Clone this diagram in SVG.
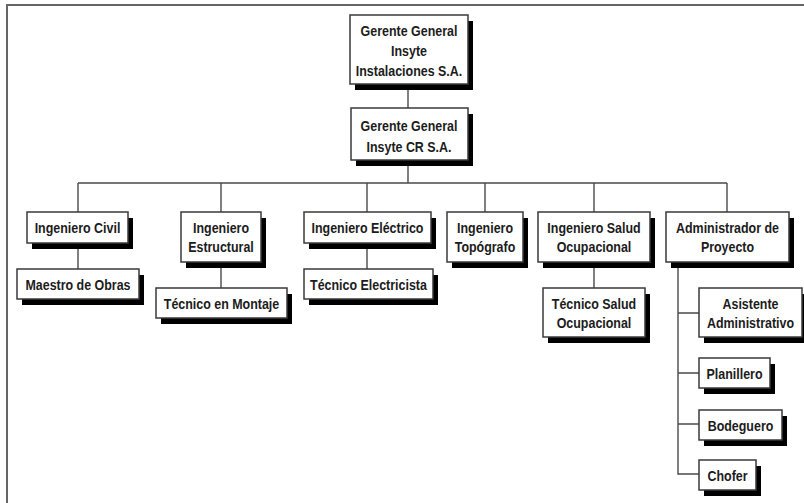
<svg xmlns="http://www.w3.org/2000/svg" width="804" height="503" viewBox="0 0 804 503">
<style>
.sh{fill:#000}
.bx{fill:#fff;stroke:#3a3a3a;stroke-width:1.5}
.t{font-family:"Liberation Sans",Arial,sans-serif;font-weight:bold;font-size:15px;fill:#1c1c1c;text-anchor:middle}
.c{stroke:#4a4a4a;stroke-width:1.4;fill:none}
.frame{stroke:#666;stroke-width:2;fill:none}
</style>
<rect width="804" height="503" fill="#fff"/>
<path class="frame" d="M7,503 V5 H804"/>
<g id="connectors">
<path class="c" d="M408,84 V108 M408,160 V183 M78,183 H727 M78,183 V212 M221,183 V212 M367,183 V212 M485,183 V212 M594,183 V212 M727,183 V212"/>
<path class="c" d="M78,243 V269 M221,262 V288 M367,243 V269 M594,262 V288"/>
<path class="c" d="M678,262 V474 H699 M678,313 H699 M678,373 H699 M678,424 H699"/>
</g>
<g id="n1"><rect class="sh" x="355" y="21" width="118" height="69"/><rect class="bx" x="350" y="15" width="118" height="69"/>
<text class="t" transform="translate(409,36) scale(0.83,1)">Gerente General</text><text class="t" transform="translate(409,56) scale(0.83,1)">Insyte</text><text class="t" transform="translate(409,76) scale(0.83,1)">Instalaciones S.A.</text></g>
<g id="n2"><rect class="sh" x="356" y="114" width="117" height="52"/><rect class="bx" x="351" y="108" width="117" height="52"/>
<text class="t" transform="translate(409,131) scale(0.83,1)">Gerente General</text><text class="t" transform="translate(409,152) scale(0.83,1)">Insyte CR S.A.</text></g>
<g id="civil"><rect class="sh" x="32" y="218" width="101" height="31"/><rect class="bx" x="27" y="212" width="101" height="31"/>
<text class="t" transform="translate(77.5,233) scale(0.83,1)">Ingeniero Civil</text></g>
<g id="maestro"><rect class="sh" x="22" y="275" width="122" height="30"/><rect class="bx" x="17" y="269" width="122" height="30"/>
<text class="t" transform="translate(78,289.5) scale(0.83,1)">Maestro de Obras</text></g>
<g id="estructural"><rect class="sh" x="186" y="218" width="80" height="50"/><rect class="bx" x="181" y="212" width="80" height="50"/>
<text class="t" transform="translate(221,232.5) scale(0.83,1)">Ingeniero</text><text class="t" transform="translate(221,251.5) scale(0.83,1)">Estructural</text></g>
<g id="montaje"><rect class="sh" x="161" y="294" width="131" height="30"/><rect class="bx" x="156" y="288" width="131" height="30"/>
<text class="t" transform="translate(221.5,308.5) scale(0.83,1)">Técnico en Montaje</text></g>
<g id="electrico"><rect class="sh" x="309" y="218" width="127" height="31"/><rect class="bx" x="304" y="212" width="127" height="31"/>
<text class="t" transform="translate(367.5,233) scale(0.83,1)">Ingeniero Eléctrico</text></g>
<g id="electricista"><rect class="sh" x="309" y="275" width="129" height="30"/><rect class="bx" x="304" y="269" width="129" height="30"/>
<text class="t" transform="translate(368.5,289.5) scale(0.83,1)">Técnico Electricista</text></g>
<g id="topografo"><rect class="sh" x="452" y="218" width="76" height="50"/><rect class="bx" x="447" y="212" width="76" height="50"/>
<text class="t" transform="translate(485,232.5) scale(0.83,1)">Ingeniero</text><text class="t" transform="translate(485,251.5) scale(0.83,1)">Topógrafo</text></g>
<g id="salud"><rect class="sh" x="543" y="218" width="112" height="50"/><rect class="bx" x="538" y="212" width="112" height="50"/>
<text class="t" transform="translate(594,232.5) scale(0.83,1)">Ingeniero Salud</text><text class="t" transform="translate(594,251.5) scale(0.83,1)">Ocupacional</text></g>
<g id="tecsalud"><rect class="sh" x="548" y="294" width="102" height="49"/><rect class="bx" x="543" y="288" width="102" height="49"/>
<text class="t" transform="translate(594,309) scale(0.83,1)">Técnico Salud</text><text class="t" transform="translate(594,328) scale(0.83,1)">Ocupacional</text></g>
<g id="admin"><rect class="sh" x="671" y="218" width="123" height="50"/><rect class="bx" x="666" y="212" width="123" height="50"/>
<text class="t" transform="translate(727.5,232.5) scale(0.83,1)">Administrador de</text><text class="t" transform="translate(727.5,251.5) scale(0.83,1)">Proyecto</text></g>
<g id="asistente"><rect class="sh" x="704" y="294" width="103" height="49"/><rect class="bx" x="699" y="288" width="103" height="49"/>
<text class="t" transform="translate(750.5,309) scale(0.83,1)">Asistente</text><text class="t" transform="translate(750.5,328) scale(0.83,1)">Administrativo</text></g>
<g id="planillero"><rect class="sh" x="704" y="364" width="71" height="30"/><rect class="bx" x="699" y="358" width="71" height="30"/>
<text class="t" transform="translate(734.5,378.5) scale(0.83,1)">Planillero</text></g>
<g id="bodeguero"><rect class="sh" x="704" y="416" width="83" height="30"/><rect class="bx" x="699" y="410" width="83" height="30"/>
<text class="t" transform="translate(740.5,430.5) scale(0.83,1)">Bodeguero</text></g>
<g id="chofer"><rect class="sh" x="704" y="466" width="57" height="30"/><rect class="bx" x="699" y="460" width="57" height="30"/>
<text class="t" transform="translate(727.5,480.5) scale(0.83,1)">Chofer</text></g>
</svg>
